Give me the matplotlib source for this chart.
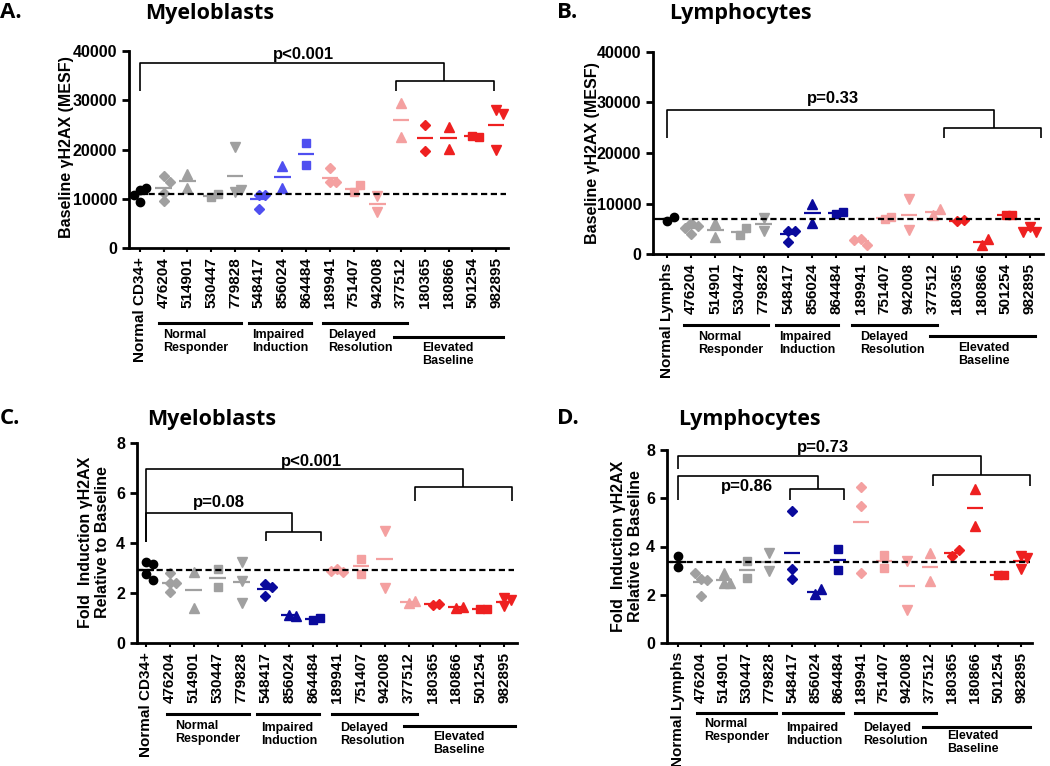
import numpy as np
import matplotlib
matplotlib.use("Agg")
import matplotlib.pyplot as plt
from matplotlib.lines import Line2D

plt.rcParams['font.family'] = ['Liberation Sans', 'DejaVu Sans']
plt.rcParams['font.weight'] = 'bold'

# categories
cats_myelo = ['Normal CD34+', '476204', '514901', '530447', '779828', '548417', '856024',
              '864484', '189941', '751407', '942008', '377512', '180365', '180866',
              '501254', '982895']
cats_lymph = ['Normal Lymphs'] + cats_myelo[1:]
markers = ['o', 'D', '^', 's', 'v', 'D', '^', 's', 'D', 's', 'v', '^', 'D', '^', 's', 'v']
color_keys = ['black'] + ['gray'] * 4 + ['blue'] * 3 + ['pink'] * 4 + ['red'] * 4

# values
myelo_base = [[11800, 12200, 10800, 9400], [14700, 13500, 11100, 9500], [15000, 12200],
              [10300, 10900], [20500, 11300, 11800], [10800, 10800, 8000], [16600, 12200],
              [21400, 16900], [16200, 13300, 13300], [11300, 12800], [10500, 7300],
              [29500, 22600], [24900, 19600], [24500, 20100], [22800, 22600],
              [28000, 27200, 20000]]
lymph_base = [[6600, 7400], [6200, 5500, 5200, 4000], [6100, 3300], [3800, 5100],
              [4600, 7200], [4600, 4600, 2400], [10000, 6200], [7900, 8400],
              [2900, 1800, 2800], [6900, 7300], [10800, 4800], [7700, 8900], [6500, 6700],
              [1800, 2900], [7700, 7800], [5400, 4300, 4400]]
myelo_fold = [[3.23, 3.17, 2.77, 2.53], [2.80, 2.40, 2.40, 2.05], [2.83, 1.40], [2.96, 2.24],
              [3.23, 2.47, 1.60], [2.37, 2.24, 1.87], [1.13, 1.10], [0.93, 1.00],
              [2.96, 2.83, 2.87], [3.36, 2.77], [4.50, 2.20], [1.60, 1.67], [1.53, 1.57],
              [1.42, 1.45], [1.36, 1.38], [1.80, 1.47, 1.71]]
lymph_fold = [[3.14, 3.59], [2.66, 2.62, 2.92, 1.96], [2.92, 2.48, 2.48], [3.38, 2.69],
              [3.75, 2.97], [5.49, 3.08, 2.66], [2.03, 2.23], [3.89, 3.03],
              [6.48, 5.66, 2.92], [3.66, 3.10], [3.38, 1.38], [3.75, 2.58], [3.61, 3.86],
              [6.37, 4.86], [2.83, 2.83], [3.61, 3.52, 3.06]]

group_names = ['Normal\nResponder', 'Impaired\nInduction', 'Delayed\nResolution',
               'Elevated\nBaseline']

W, H = 1050, 766
fig = plt.figure(figsize=(W / 100, H / 100), dpi=100)


def fx(x):
    return x / W


def fy(y):
    return 1 - y / H


def spread(vals, d, thr):
    # simple scatter-dot spreading of overlapping points
    placed = []
    offs = []
    for v in vals:
        for o in [0, d, -d, 2 * d, -2 * d]:
            if all(abs(v - pv) >= thr for pv, po in placed if po == o):
                break
        placed.append((v, o))
        offs.append(o)
    return offs


def bracket(ax, y_low, y_top, xmid, y_sub, xs0, xs1, y_sub_low):
    kw = dict(color='black', lw=1.2, clip_on=False, solid_capstyle='butt')
    ax.plot([0, 0, xmid, xmid], [y_low, y_top, y_top, y_sub], **kw)
    ax.plot([xs0, xs0, xs1, xs1], [y_sub_low, y_sub, y_sub, y_sub_low], **kw)


def panel(rect, cats, data, ymax, yticks, xlim, blue):
    ax = fig.add_axes(rect)
    colors = {'black': 'black', 'gray': '#A0A0A0', 'blue': blue,
              'pink': '#F4A0A0', 'red': '#EE2020'}
    sizes = {'o': 6, 'D': 5.5, '^': 7, 'v': 7, 's': 6}
    for i, vals in enumerate(data):
        c = colors[color_keys[i]]
        offs = spread(vals, 0.27, 0.04 * ymax)
        ax.plot(np.array(offs) + i, vals, linestyle='none', marker=markers[i],
                ms=sizes[markers[i]], color=c, mec=c, clip_on=False, zorder=3)
        m = np.mean(vals)
        ax.plot([i - 0.35, i + 0.35], [m, m], color=c, lw=1.6, zorder=2,
                solid_capstyle='butt')
    ref = np.mean(data[0])
    ax.plot([xlim[0], len(cats) - 1 + 0.4], [ref, ref], color='black', lw=1.6,
            linestyle=(0, (2.8, 1.6)), zorder=4, clip_on=False)
    ax.set_xlim(*xlim)
    ax.set_ylim(0, ymax)
    ax.set_yticks(yticks)
    ax.set_xticks(range(len(cats)))
    ax.set_xticklabels(cats, rotation=90, fontsize=11, fontweight='bold')
    ax.tick_params(axis='y', labelsize=11.5, width=2, length=5)
    ax.tick_params(axis='x', width=1.5, length=3)
    for lab in ax.get_yticklabels():
        lab.set_fontweight('bold')
    for s in ['top', 'right']:
        ax.spines[s].set_visible(False)
    for s in ['left', 'bottom']:
        ax.spines[s].set_linewidth(2)
    return ax


def groups(lines, texts):
    for (x0, x1, y) in lines:
        fig.add_artist(Line2D([fx(x0), fx(x1)], [fy(y), fy(y)], color='black', lw=2.2,
                              transform=fig.transFigure))
    for name, (x, y) in zip(group_names, texts):
        fig.text(fx(x), fy(y), name, ha='left', va='top', fontsize=9, fontweight='bold',
                 linespacing=1.15)


def heading(letter, lx, title, tx, y):
    fig.text(fx(lx), fy(y), letter, ha='left', va='center', fontsize=16,
             fontweight='bold', family=['Open Sans', 'DejaVu Sans'])
    fig.text(fx(tx), fy(y), title, ha='center', va='center', fontsize=15.5,
             fontweight='bold', family=['Open Sans', 'DejaVu Sans'])


# A
axA = panel([fx(129), fy(248), fx(508) - fx(129), fy(51) - fy(248)], cats_myelo, myelo_base,
            40000, [0, 10000, 20000, 30000, 40000], (-0.46, 15.5), '#4F4FF0')
bracket(axA, 31900, 37600, 12.8, 33900, 10.8, 14.9, 31900)
axA.text(6.87, 39200, 'p<0.001', ha='center', va='center', fontsize=12, fontweight='bold')
heading('A.', 0, 'Myeloblasts', 210, 13)
fig.text(fx(67), fy(147), 'Baseline γH2AX (MESF)', rotation=90, ha='center', va='center',
         fontsize=11.5, fontweight='bold')
groups([(159, 241, 323), (249, 311, 323), (323, 407, 323), (394, 503, 337)],
       [(163, 329), (252, 329), (328, 329), (422, 342)])

# B
axB = panel([fx(653), fy(254), fx(1043) - fx(653), fy(52) - fy(254)], cats_lymph, lymph_base,
            40000, [0, 10000, 20000, 30000, 40000], (-0.58, 15.54), '#0A0A9C')
bracket(axB, 23000, 28600, 13.5, 25000, 11.45, 15.45, 23000)
axB.text(6.86, 30700, 'p=0.33', ha='center', va='center', fontsize=12, fontweight='bold')
heading('B.', 557, 'Lymphocytes', 740, 13)
fig.text(fx(592), fy(153), 'Baseline γH2AX (MESF)', rotation=90, ha='center', va='center',
         fontsize=11.5, fontweight='bold')
groups([(684, 768, 325), (776, 838, 325), (852, 937, 325), (930, 1035, 336)],
       [(698, 331), (779, 331), (860, 331), (958, 342)])

# C
axC = panel([fx(137), fy(643), fx(517) - fx(137), fy(443) - fy(643)], cats_myelo, myelo_fold,
            8, [0, 2, 4, 6, 8], (-0.38, 15.54), '#0A0A9C')
bracket(axC, 4.05, 6.97, 13.28, 6.25, 11.27, 15.33, 5.69)
bracket(axC, 4.05, 5.21, 6.1, 4.45, 5.03, 7.33, 4.09)
axC.text(6.95, 7.25, 'p<0.001', ha='center', va='center', fontsize=12, fontweight='bold')
axC.text(3.06, 5.62, 'p=0.08', ha='center', va='center', fontsize=12, fontweight='bold')
heading('C.', 0, 'Myeloblasts', 212, 419)
fig.text(fx(94), fy(542), 'Fold  Induction γH2AX\nRelative to Baseline', rotation=90,
         ha='center', va='center', fontsize=11.5, fontweight='bold', linespacing=1.15)
groups([(167, 249, 714), (257, 319, 714), (332, 417, 714), (404, 515, 726)],
       [(175, 720), (261, 722), (340, 722), (433, 731)])

# D
axD = panel([fx(667), fy(643), fx(1032) - fx(667), fy(450) - fy(643)], cats_lymph, lymph_fold,
            8, [0, 2, 4, 6, 8], (-0.48, 15.48), '#0A0A9C')
bracket(axD, 7.21, 7.75, 13.25, 6.96, 11.15, 15.39, 6.51)
bracket(axD, 5.93, 6.92, 6.12, 6.38, 4.9, 7.26, 5.93)
axD.text(6.34, 8.12, 'p=0.73', ha='center', va='center', fontsize=12, fontweight='bold')
axD.text(3.02, 6.47, 'p=0.86', ha='center', va='center', fontsize=12, fontweight='bold')
heading('D.', 557, 'Lymphocytes', 749, 419)
fig.text(fx(627), fy(546), 'Fold  Induction γH2AX\nRelative to Baseline', rotation=90,
         ha='center', va='center', fontsize=11.5, fontweight='bold', linespacing=1.15)
groups([(697, 776, 713), (783, 843, 713), (855, 936, 713), (923, 1030, 727)],
       [(704, 718), (786, 722), (863, 722), (947, 730)])

fig.savefig('out.png', dpi=100)
